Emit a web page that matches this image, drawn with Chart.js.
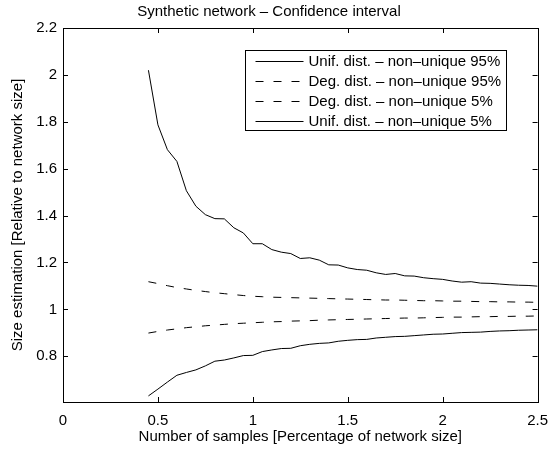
<!DOCTYPE html>
<html>
<head>
<meta charset="utf-8">
<script src="https://cdn.jsdelivr.net/npm/chart.js@4.4.1/dist/chart.umd.min.js"></script>
<style>
    body { margin: 0; background: #fff; }
    #wrap { width: 558px; height: 451px; position: relative; }
</style>
</head>
<body>
<div id="wrap"><canvas id="ciChart"></canvas></div>
<script>
Chart.defaults.font.family = "'Liberation Sans', Arial, Helvetica, sans-serif"
Chart.defaults.font.size = 15
Chart.defaults.color = "#000"

var sampleSizes = [0.45, 0.5, 0.55, 0.6, 0.65, 0.7, 0.75, 0.8, 0.85, 0.9, 0.95, 1.0,
    1.05, 1.1, 1.15, 1.2, 1.25, 1.3, 1.35, 1.4, 1.45, 1.5,
    1.55, 1.6, 1.65, 1.7, 1.75, 1.8, 1.85, 1.9, 1.95, 2.0,
    2.05, 2.1, 2.15, 2.2, 2.25, 2.3, 2.35, 2.4, 2.45, 2.5]

var unif95 = [2.02, 1.787, 1.681, 1.631, 1.506, 1.44, 1.404, 1.387, 1.386, 1.348, 1.326, 1.28,
    1.28, 1.255, 1.244, 1.238, 1.217, 1.22, 1.21, 1.19, 1.189, 1.177,
    1.17, 1.167, 1.156, 1.149, 1.153, 1.143, 1.142, 1.135, 1.131, 1.128,
    1.121, 1.116, 1.118, 1.112, 1.111, 1.108, 1.105, 1.103, 1.102, 1.099]

var deg95 = [1.118, 1.110, 1.101, 1.093, 1.087, 1.081, 1.076, 1.071, 1.067, 1.063, 1.059, 1.056,
    1.054, 1.052, 1.051, 1.050, 1.049, 1.048, 1.047, 1.046, 1.045, 1.044,
    1.043, 1.042, 1.041, 1.040, 1.040, 1.039, 1.038, 1.037, 1.037, 1.036,
    1.035, 1.035, 1.034, 1.033, 1.033, 1.032, 1.032, 1.031, 1.031, 1.030]

var deg5 = [0.899, 0.906, 0.912, 0.917, 0.922, 0.926, 0.930, 0.933, 0.936, 0.939, 0.941, 0.943,
    0.945, 0.947, 0.948, 0.950, 0.951, 0.952, 0.954, 0.955, 0.956, 0.957,
    0.958, 0.959, 0.960, 0.961, 0.962, 0.963, 0.963, 0.964, 0.965, 0.966,
    0.967, 0.967, 0.968, 0.969, 0.969, 0.970, 0.970, 0.971, 0.971, 0.972]

var unif5 = [0.631, 0.66, 0.69, 0.719, 0.731, 0.742, 0.759, 0.779, 0.784, 0.793, 0.803, 0.804,
    0.82, 0.827, 0.833, 0.834, 0.845, 0.851, 0.855, 0.857, 0.864, 0.868,
    0.871, 0.872, 0.878, 0.881, 0.884, 0.885, 0.888, 0.891, 0.894, 0.895,
    0.898, 0.901, 0.902, 0.903, 0.906, 0.908, 0.909, 0.911, 0.912, 0.913]

var seriesLabels = ["Unif. dist. \u2013 non\u2013unique 95%", "Deg. dist. \u2013 non\u2013unique 95%",
    "Deg. dist. \u2013 non\u2013unique 5%", "Unif. dist. \u2013 non\u2013unique 5%"]
var xTickValues = [0, 0.5, 1, 1.5, 2, 2.5]
var yTickValues = [0.8, 1, 1.2, 1.4, 1.6, 1.8, 2, 2.2]

function toPoints(ys){
    return sampleSizes.map((x, i) => ({x: x, y: ys[i]}))
}

function makeDataset(label, ys, dashed){
    return {
        label: label,
        data: toPoints(ys),
        borderColor: "#000",
        borderWidth: 1,
        borderDash: dashed ? [8, 10] : [],
        pointRadius: 0,
        tension: 0,
        fill: false
    }
}

//box round the plot with ticks pointing inwards, like matlab
const boxPlugin = {
    id: "boxPlugin",
    afterDraw(chart){
        const {ctx, chartArea, scales} = chart
        const {left, right, top, bottom} = chartArea
        const tl = 5
        ctx.save()
        ctx.strokeStyle = "#000"
        ctx.lineWidth = 1
        ctx.beginPath()
        scales.x.ticks.forEach(t => {
            const px = Math.round(scales.x.getPixelForValue(t.value)) + 0.5
            ctx.moveTo(px, bottom); ctx.lineTo(px, bottom - tl)
            ctx.moveTo(px, top); ctx.lineTo(px, top + tl)
        })
        scales.y.ticks.forEach(t => {
            const py = Math.round(scales.y.getPixelForValue(t.value)) + 0.5
            ctx.moveTo(left, py); ctx.lineTo(left + tl, py)
            ctx.moveTo(right, py); ctx.lineTo(right - tl, py)
        })
        ctx.stroke()
        ctx.strokeRect(Math.round(left) + 0.5, Math.round(top) + 0.5, Math.round(right - left), Math.round(bottom - top))
        ctx.restore()
    }
}

//legend box inside the plot, upper right
const boxLegend = {
    id: "boxLegend",
    afterDatasetsDraw(chart){
        const {ctx, chartArea} = chart
        const boxW = 261, boxH = 80
        const bx = Math.round(chartArea.right - 32 - boxW) + 0.5
        const by = Math.round(chartArea.top + 22) + 0.5
        const rowH = 20
        ctx.save()
        ctx.fillStyle = "#fff"
        ctx.fillRect(bx, by, boxW, boxH)
        ctx.strokeStyle = "#000"
        ctx.lineWidth = 1
        ctx.strokeRect(bx, by, boxW, boxH)
        ctx.font = "15px 'Liberation Sans', Arial, Helvetica, sans-serif"
        ctx.textBaseline = "middle"
        ctx.fillStyle = "#000"
        chart.data.datasets.forEach((ds, i) => {
            const cy = Math.round(by + boxH / 2 + (i - 1.5) * rowH) + 0.5
            ctx.setLineDash(ds.borderDash)
            ctx.beginPath()
            ctx.moveTo(bx + 10, cy)
            ctx.lineTo(bx + 58, cy)
            ctx.stroke()
            ctx.setLineDash([])
            ctx.fillText(ds.label, bx + 63, cy)
        })
        ctx.restore()
    }
}

new Chart(document.getElementById("ciChart"), {
    type: "line",
    data: {
        datasets: [
            makeDataset(seriesLabels[0], unif95, false),
            makeDataset(seriesLabels[1], deg95, true),
            makeDataset(seriesLabels[2], deg5, true),
            makeDataset(seriesLabels[3], unif5, false)
        ]
    },
    options: {
        responsive: true,
        maintainAspectRatio: false,
        animation: false,
        layout: {
            padding: {left: 0, right: 20, top: 0, bottom: 0}
        },
        scales: {
            x: {
                type: "linear",
                min: 0,
                max: 2.5,
                afterBuildTicks: (scale) => { scale.ticks = xTickValues.map(v => ({value: v})) },
                afterFit: (scale) => { scale.height = 49 },
                grid: {display: false, drawTicks: false},
                border: {display: false},
                ticks: {
                    padding: 10,
                    maxRotation: 0,
                    callback: (v) => String(v)
                },
                title: {
                    display: true,
                    text: "Number of samples [Percentage of network size]",
                    padding: {top: 0, bottom: 5}
                }
            },
            y: {
                type: "linear",
                min: 0.605,
                max: 2.2,
                afterBuildTicks: (scale) => { scale.ticks = yTickValues.map(v => ({value: v})) },
                afterFit: (scale) => { scale.width = 63 },
                grid: {display: false, drawTicks: false},
                border: {display: false},
                ticks: {
                    padding: 6,
                    callback: (v) => String(v)
                },
                title: {
                    display: true,
                    text: "Size estimation [Relative to network size]",
                    padding: {top: 9, bottom: 0}
                }
            }
        },
        plugins: {
            legend: {display: false},
            tooltip: {enabled: false},
            title: {
                display: true,
                text: "Synthetic network \u2013 Confidence interval",
                font: {size: 15, weight: "normal"},
                color: "#000",
                padding: {top: 3, bottom: 7}
            }
        }
    },
    plugins: [boxPlugin, boxLegend]
})
</script>
</body>
</html>
